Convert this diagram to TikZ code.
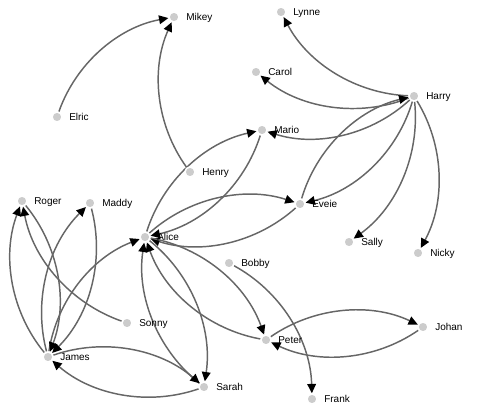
\documentclass[tikz,border=0pt]{standalone}
\usepackage{fontspec}
\setmainfont{Liberation Sans}
\usetikzlibrary{arrows.meta}
\definecolor{linkgray}{HTML}{666666}
\definecolor{nodegray}{HTML}{CCCCCC}
\pgfdeclarelayer{background}
\pgfsetlayers{background,main}

\begin{document}
\begin{tikzpicture}[
    x=0.75pt, y=-0.75pt,
    person/.style={circle, fill=nodegray, draw=white, line width=1.1pt, inner sep=0pt, minimum size=7.5pt},
    tag/.style={font=\fontsize{7.5}{9}\selectfont, text=black, inner sep=0pt, anchor=base west, yshift=-2.3pt},
    link/.style={draw=linkgray, line width=1.1pt, -{Triangle[length=7pt, width=6.5pt, color=black]}, bend left=30, looseness=0.91}
]
\useasboundingbox (0,0) rectangle (477,413);

% People
\node [person, label={[tag, label distance=4.7pt]east:Mikey}] (mikey) at (174, 17) {};
\node [person, label={[tag, label distance=4.7pt]east:Elric}] (elric) at (57, 117) {};
\node [person, label={[tag, label distance=4.7pt]east:Henry}] (henry) at (190, 172) {};
\node [person, label={[tag, label distance=4.7pt]east:Roger}] (roger) at (22, 201) {};
\node [person, label={[tag, label distance=4.7pt]east:Maddy}] (maddy) at (90, 203) {};
\node [person, label={[tag, label distance=4.7pt]east:Lynne}] (lynne) at (281, 12) {};
\node [person, label={[tag, label distance=4.7pt]east:Carol}] (carol) at (256, 72) {};
\node [person, label={[tag, label distance=4.7pt]east:Harry}] (harry) at (414, 96) {};
\node [person, label={[tag, label distance=4.7pt]east:Mario}] (mario) at (262, 130) {};
\node [person, label={[tag, label distance=4.7pt]east:Eveie}] (eveie) at (300, 204) {};
\node [person, label={[tag, label distance=4.7pt]east:Alice}] (alice) at (145, 237) {};
\node [person, label={[tag, label distance=4.7pt]east:Sally}] (sally) at (349, 242) {};
\node [person, label={[tag, label distance=4.7pt]east:Nicky}] (nicky) at (418, 253) {};
\node [person, label={[tag, label distance=4.7pt]east:Bobby}] (bobby) at (229, 263) {};
\node [person, label={[tag, label distance=4.7pt]east:Sonny}] (sonny) at (127, 323) {};
\node [person, label={[tag, label distance=4.7pt]east:Johan}] (johan) at (423, 327) {};
\node [person, label={[tag, label distance=4.7pt]east:Peter}] (peter) at (266, 340) {};
\node [person, label={[tag, label distance=4.7pt]east:James}] (james) at (48, 357) {};
\node [person, label={[tag, label distance=4.7pt]east:Sarah}] (sarah) at (204, 387) {};
\node [person, label={[tag, label distance=4.7pt]east:Frank}] (frank) at (312, 399) {};

% Links
\begin{pgfonlayer}{background}
\draw [link] (elric) to (mikey);
\draw [link] (henry) to (mikey);
\draw [link] (harry) to (lynne);
\draw [link] (harry) to (carol);
\draw [link] (harry) to (mario);
\draw [link] (harry) to (eveie);
\draw [link] (eveie) to (harry);
\draw [link] (harry) to (sally);
\draw [link] (harry) to (nicky);
\draw [link] (alice) to (mario);
\draw [link] (mario) to (alice);
\draw [link] (alice) to (eveie);
\draw [link] (eveie) to (alice);
\draw [link] (james) to (alice);
\draw [link] (alice) to (sarah);
\draw [link] (sarah) to (alice);
\draw [link] (alice) to (peter);
\draw [link] (peter) to (alice);
\draw [link] (peter) to (johan);
\draw [link] (johan) to (peter);
\draw [link] (bobby) to (frank);
\draw [link] (james) to (sarah);
\draw [link] (sarah) to (james);
\draw [link] (james) to (roger);
\draw [link] (roger) to (james);
\draw [link] (sonny) to (roger);
\draw [link] (james) to (maddy);
\draw [link] (maddy) to (james);
\end{pgfonlayer}

\end{tikzpicture}
\end{document}
